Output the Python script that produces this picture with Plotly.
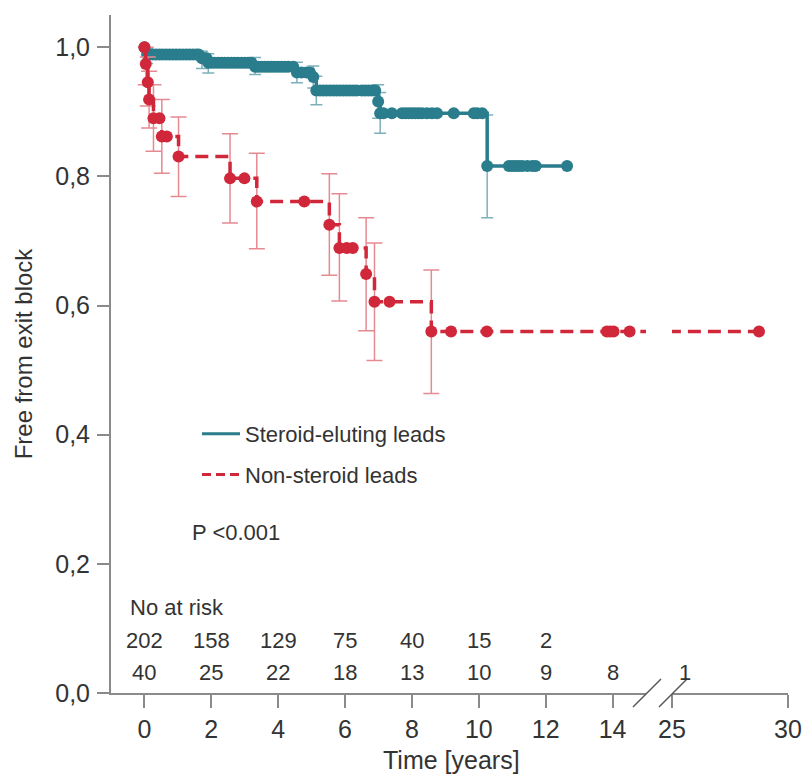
import plotly.graph_objects as go

# ---- Kaplan-Meier data (time in years) ----
# Steroid-eluting leads: event times, survival after each event, 95% CI
ster_evt_t = [0.08, 1.72, 1.91, 3.31, 4.56, 5.05, 5.14, 6.99, 7.05, 10.25]
ster_evt_s = [0.989, 0.983, 0.976, 0.970, 0.961, 0.954, 0.933, 0.916, 0.898, 0.816]
ster_ci_lo = [0.975, 0.967, 0.960, 0.958, 0.945, 0.937, 0.911, 0.890, 0.867, 0.736]
ster_ci_hi = [0.998, 0.994, 0.990, 0.984, 0.977, 0.971, 0.955, 0.942, 0.930, 0.895]
# Steroid-eluting leads: censored follow-up times
ster_cens_t = [0.15, 0.25, 0.35, 0.45, 0.55, 0.65, 0.75, 0.85, 0.95, 1.05, 1.15, 1.25,
               1.35, 1.45, 1.55, 1.62, 1.80, 1.86, 2.0, 2.1, 2.2, 2.3, 2.4, 2.5, 2.6,
               2.7, 2.8, 2.9, 3.0, 3.1, 3.2, 3.4, 3.5, 3.6, 3.7, 3.8, 3.9, 4.0, 4.1,
               4.2, 4.3, 4.45, 4.7, 4.85, 4.95, 5.25, 5.35, 5.45, 5.55, 5.65, 5.75,
               5.85, 5.95, 6.05, 6.15, 6.25, 6.35, 6.5, 6.6, 6.7, 6.8, 6.9, 7.15,
               7.4, 7.7, 7.8, 7.9, 8.0, 8.1, 8.2, 8.3, 8.45, 8.6, 8.75, 9.25, 9.85,
               9.95, 10.1, 10.9, 11.0, 11.1, 11.2, 11.3, 11.45, 11.6, 11.7, 12.64]

# Non-steroid leads
non_evt_t = [0.04, 0.10, 0.14, 0.27, 0.52, 1.02, 2.56, 3.36, 5.53, 5.83, 6.63, 6.88, 8.58]
non_evt_s = [0.974, 0.946, 0.919, 0.890, 0.862, 0.831, 0.797, 0.761, 0.725, 0.689,
             0.649, 0.606, 0.560]
non_ci_lo = [0.942, 0.909, 0.875, 0.839, 0.805, 0.769, 0.728, 0.688, 0.647, 0.607,
             0.561, 0.515, 0.464]
non_ci_hi = [1.0, 0.985, 0.963, 0.942, 0.919, 0.892, 0.866, 0.836, 0.804, 0.773,
             0.736, 0.697, 0.655]
non_cens_t = [0.45, 0.67, 2.99, 4.78, 6.05, 6.23, 7.33, 9.17, 10.24, 13.83, 13.93,
              14.03, 14.51, 28.75]

# Numbers at risk
risk_times = [0, 2, 4, 6, 8, 10, 12, 14, 25]
risk_steroid = [202, 158, 129, 75, 40, 15, 2]
risk_nonsteroid = [40, 25, 22, 18, 13, 10, 9, 8, 1]

# Axis ticks (broken time axis: 0-14, then 25-30)
x1_ticks = [0, 2, 4, 6, 8, 10, 12, 14]
x2_ticks = [25, 30]
y_ticks = [0.0, 0.2, 0.4, 0.6, 0.8, 1.0]

TEAL = "#2a7d8c"
TEAL_ERR = "#7eb0ba"
RED = "#d0283a"
RED_ERR = "#e68a92"
AXIS = "#8a8a8a"
TEXT = "#333333"
FONT = "Liberation Sans, Arial, sans-serif"

# ---- figure geometry ----
FIG_W, FIG_H = 805, 774
M_L, M_R, M_T, M_B = 111, 17, 15, 81
PLOT_W = FIG_W - M_L - M_R
PLOT_H = FIG_H - M_T - M_B


def px_x(px):
    return (px - M_L) / PLOT_W


def px_y(py):
    return (FIG_H - M_B - py) / PLOT_H


D1_END = px_x(646)
D2_START = px_x(672)


def step_value(t, evt_t, evt_s):
    s = 1.0
    for et, es in zip(evt_t, evt_s):
        if et <= t:
            s = es
    return s


def km_traces(evt_t, evt_s, lo, hi, cens_t, color, err_color, dash, msize, cap):
    last = max(cens_t + evt_t)
    line_x = [0] + evt_t + [last]
    line_y = [1.0] + evt_s + [evt_s[-1]]
    obs_t = sorted(set([0] + evt_t + cens_t))
    obs_s = [step_value(t, evt_t, evt_s) for t in obs_t]
    out = []
    for xa in ("x", "x2"):
        out.append(go.Scatter(
            x=evt_t, y=evt_s, xaxis=xa, yaxis="y", mode="markers",
            marker=dict(size=1, color="rgba(0,0,0,0)"),
            error_y=dict(type="data", symmetric=False,
                         array=[h - s for h, s in zip(hi, evt_s)],
                         arrayminus=[s - l for l, s in zip(lo, evt_s)],
                         color=err_color, thickness=1.5, width=cap),
            showlegend=False, hoverinfo="skip"))
    for xa in ("x", "x2"):
        out.append(go.Scatter(
            x=line_x, y=line_y, xaxis=xa, yaxis="y", mode="lines",
            line=dict(color=color, width=3.5, shape="hv", dash=dash),
            showlegend=False, hoverinfo="skip"))
        out.append(go.Scatter(
            x=obs_t, y=obs_s, xaxis=xa, yaxis="y", mode="markers",
            marker=dict(size=msize, color=color, line=dict(width=0)),
            showlegend=False))
    return out


fig = go.Figure()
for tr in km_traces(ster_evt_t, ster_evt_s, ster_ci_lo, ster_ci_hi, ster_cens_t,
                    TEAL, TEAL_ERR, "solid", 12, 6):
    fig.add_trace(tr)
for tr in km_traces(non_evt_t, non_evt_s, non_ci_lo, non_ci_hi, non_cens_t,
                    RED, RED_ERR, "13px,7px", 12, 8):
    fig.add_trace(tr)

# legend entries (line keys only)
fig.add_trace(go.Scatter(x=[None], y=[None], mode="lines", name="Steroid-eluting leads",
                         line=dict(color=TEAL, width=3), legendgroup="a"))
fig.add_trace(go.Scatter(x=[None], y=[None], mode="lines", name="Non-steroid leads",
                         line=dict(color=RED, width=3, dash="9px,5px"), legendgroup="b"))

axis_common = dict(showline=True, linecolor=AXIS, linewidth=2, ticks="outside",
                   ticklen=13, tickwidth=2, tickcolor=AXIS, showgrid=False,
                   zeroline=False, tickfont=dict(size=25, color=TEXT, family=FONT),
                   anchor="y", automargin=False)

fig.update_layout(
    width=FIG_W, height=FIG_H,
    margin=dict(l=M_L, r=M_R, t=M_T, b=M_B, autoexpand=False),
    paper_bgcolor="white", plot_bgcolor="white",
    separators=",.",
    font=dict(family=FONT, color=TEXT),
    xaxis=dict(domain=[0, D1_END], range=[-1, 15], tickvals=x1_ticks, **axis_common),
    xaxis2=dict(domain=[D2_START, 1], range=[25, 30], tickvals=x2_ticks, **axis_common),
    yaxis=dict(range=[0, 1.05], tickvals=y_ticks, tickformat=".1f",
               showline=True, linecolor=AXIS, linewidth=2, ticks="outside",
               ticklen=12, tickwidth=2, tickcolor=AXIS, showgrid=False,
               zeroline=False, tickfont=dict(size=25, color=TEXT, family=FONT),
               ticklabelstandoff=2, automargin=False,
               title=dict(text="Free from exit block", font=dict(size=24, color=TEXT),
                          standoff=16)),
    legend=dict(x=px_x(197), y=px_y(413), xanchor="left", yanchor="top",
                font=dict(size=22, color=TEXT, family=FONT), itemwidth=38,
                tracegroupgap=9, bgcolor="rgba(0,0,0,0)", traceorder="grouped"),
)

annotations = [
    dict(text="Time [years]", xref="paper", yref="paper", x=px_x(451), y=px_y(760),
         xanchor="center", yanchor="middle", showarrow=False,
         font=dict(size=25, color=TEXT)),
    dict(text="P <0.001", xref="paper", yref="paper", x=px_x(190), y=px_y(532),
         xanchor="left", yanchor="middle", showarrow=False,
         font=dict(size=22, color=TEXT)),
    dict(text="No at risk", xref="paper", yref="paper", x=px_x(128), y=px_y(607),
         xanchor="left", yanchor="middle", showarrow=False,
         font=dict(size=22, color=TEXT)),
]
for t, n in zip(risk_times, risk_steroid):
    annotations.append(dict(text=str(n), xref="x", yref="paper", x=t, y=px_y(640),
                            xanchor="center", yanchor="middle", showarrow=False,
                            font=dict(size=22, color=TEXT)))
for t, n in zip(risk_times, risk_nonsteroid):
    on_second = t >= 25
    annotations.append(dict(text=str(n), xref="x2" if on_second else "x", yref="paper",
                            x=t, y=px_y(672), xanchor="center", yanchor="middle",
                            xshift=13 if on_second else 0, showarrow=False,
                            font=dict(size=22, color=TEXT)))
fig.update_layout(annotations=annotations)

# axis-break marks
shapes = []
for cx in (647, 673):
    shapes.append(dict(type="line", xref="paper", yref="paper",
                       x0=px_x(cx - 14), y0=px_y(707), x1=px_x(cx + 14), y1=px_y(679),
                       line=dict(color="#555555", width=1.5)))
fig.update_layout(shapes=shapes)

fig.write_html("out.html")
